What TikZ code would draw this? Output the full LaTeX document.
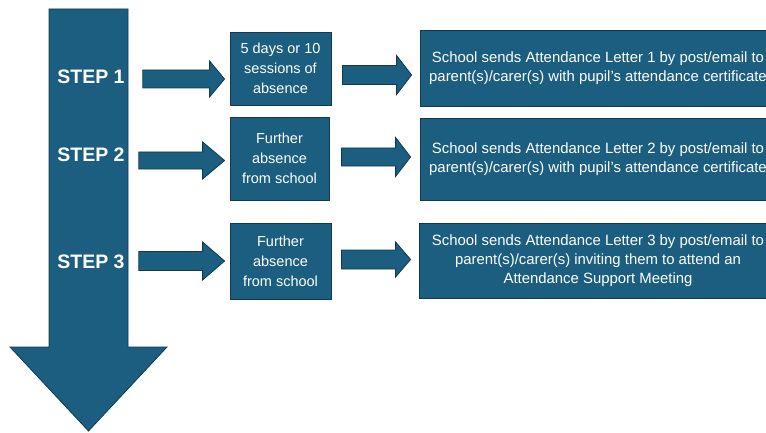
\documentclass[tikz,border=0pt]{standalone}
\usepackage{fontspec}
\setmainfont{Liberation Sans}
\definecolor{atBlue}{HTML}{1B5E80}
\definecolor{atEdge}{HTML}{0F3B50}
\usetikzlibrary{calc,positioning}

\tikzset{
  stepbox/.style={draw=atEdge, fill=atBlue, line width=0.8pt, text=white, align=center,
    inner sep=0pt, font=\fontsize{14.5}{20}\selectfont},
  letterbox/.style={stepbox, font=\fontsize{14.9}{19}\selectfont},
  steplabel/.style={text=white, inner sep=0pt, font=\bfseries\fontsize{19.5}{22}\selectfont},
  blockarrow/.style={draw=atEdge, fill=atBlue, line width=0.8pt}
}

% block arrow: from, tip, shaft half, head half, head length
\newcommand{\blkarrow}[5]{%
  \draw[blockarrow] let \p1=(#1), \p2=(#2) in
    (\x1,\y2+#3) -- (\x2-#5,\y2+#3) -- (\x2-#5,\y2+#4) -- (\x2,\y2)
    -- (\x2-#5,\y2-#4) -- (\x2-#5,\y2-#3) -- (\x1,\y2-#3) -- cycle;}

\begin{document}
\begin{tikzpicture}[x=1pt, y=1pt]
  \useasboundingbox (0,0) rectangle (766,432);
  % time line
  \draw[blockarrow] (49,423) -- (128,423) -- (128,85) -- (167,85) -- (88.5,1)
    -- (10,85) -- (49,85) -- cycle;

  \node[steplabel] (step1) at (91,355) {STEP 1};
  \node[steplabel] (step2) at (91,277) {STEP 2};
  \node[steplabel] (step3) at (91,170) {STEP 3};

  \node[stepbox, minimum width=101pt, minimum height=73pt] (why1) at (280.5,363.5)
    {5 days or 10\\sessions of\\absence};
  \node[stepbox, minimum width=99pt, minimum height=83pt] (why2) at (279.5,273.5)
    {Further\\absence\\from school};
  \node[stepbox, minimum width=101pt, minimum height=76pt] (why3) at (280.5,171)
    {Further\\absence\\from school};

  \node[letterbox, minimum width=356pt, minimum height=76pt] (letter1) at (598,364)
    {School sends Attendance Letter 1 by post/email to\\parent(s)/carer(s) with pupil’s attendance certificate};
  \node[letterbox, minimum width=356pt, minimum height=82pt] (letter2) at (598,273)
    {School sends Attendance Letter 2 by post/email to\\parent(s)/carer(s) with pupil’s attendance certificate};
  \node[letterbox, minimum width=358pt, minimum height=75pt] (letter3) at (598,171.5)
    {School sends Attendance Letter 3 by post/email to\\parent(s)/carer(s) inviting them to attend an\\Attendance Support Meeting};

  \blkarrow{[xshift=18pt]step1.east}{[shift={(-5pt,-10.5pt)}]why1.west}{9}{18}{15}
  \blkarrow{[xshift=14pt]step2.east}{[shift={(-5pt,-2pt)}]why2.west}{8.5}{18.5}{22}
  \blkarrow{[xshift=14pt]step3.east}{[xshift=-5pt]why3.west}{9.5}{19}{22}

  \blkarrow{[xshift=11pt]why1.east}{[shift={(-8pt,-7pt)}]letter1.west}{9.5}{19.5}{15}
  \blkarrow{[xshift=12pt]why2.east}{[shift={(-9pt,2pt)}]letter2.west}{9}{19.5}{15}
  \blkarrow{[xshift=10pt]why3.east}{[shift={(-8pt,1pt)}]letter3.west}{9.5}{17.5}{15}
\end{tikzpicture}
\end{document}
